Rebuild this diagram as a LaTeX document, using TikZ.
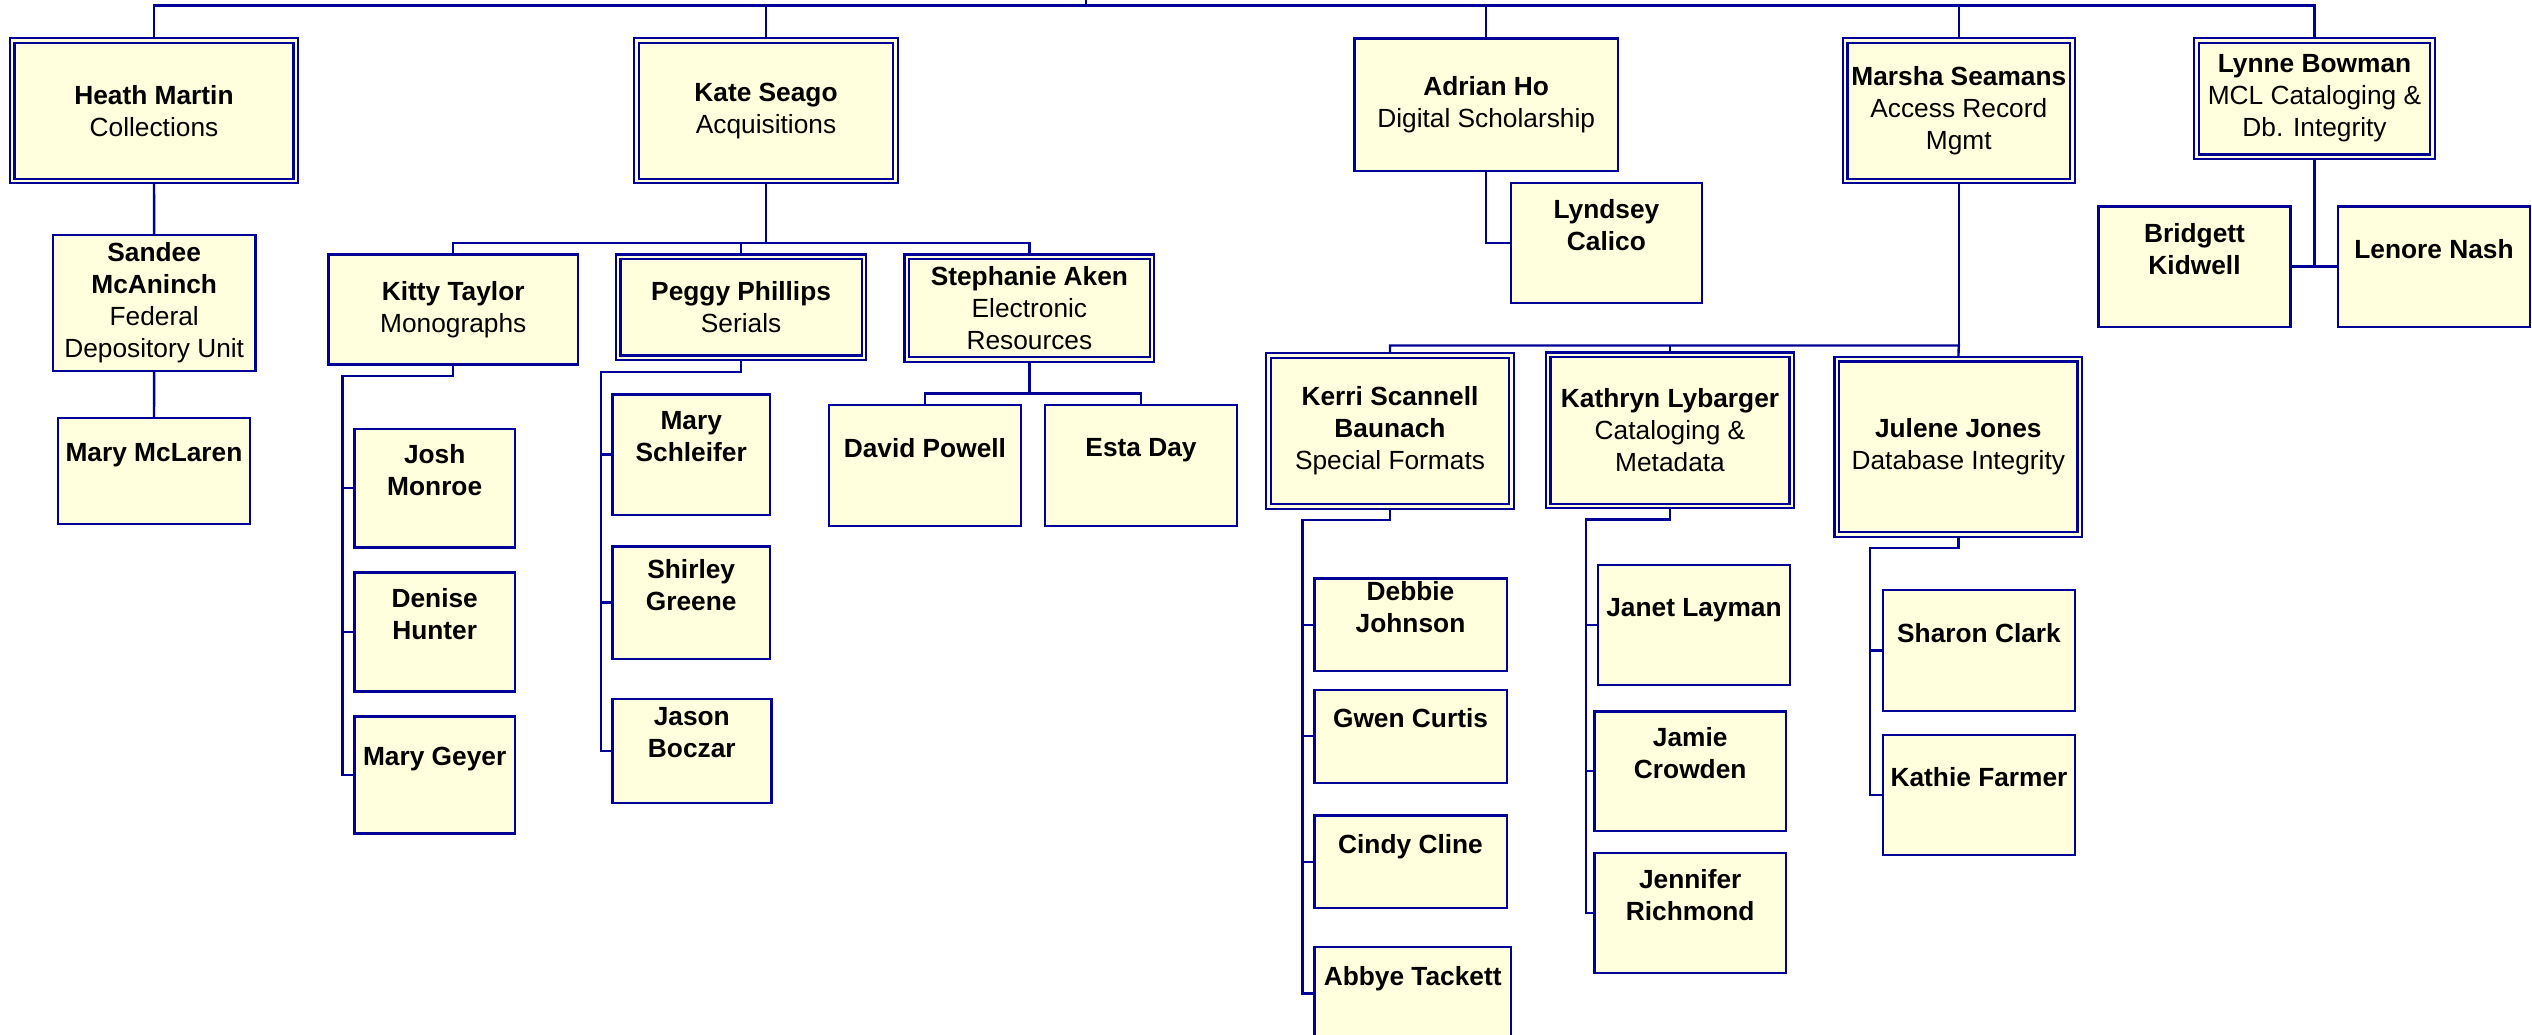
\documentclass[tikz,border=0pt]{standalone}
\usepackage{fontspec}
\setmainfont{Liberation Sans}
\usetikzlibrary{backgrounds}

\definecolor{orgblue}{RGB}{0,0,150}
\definecolor{orgfill}{RGB}{255,255,221}
\newcommand\orgfont{\fontsize{26.3}{32}\selectfont}
\newcommand\spare{\\\rule[-4pt]{0pt}{4pt}}

\tikzset{
	unit/.style={draw=orgblue, fill=orgfill, line width=2.4pt, inner sep=0pt, outer sep=0pt, align=center, font=\orgfont},
	head/.style={unit, line width=2.2pt, double=orgfill, double distance=2.4pt},
	staff/.style={unit, font=\orgfont\bfseries},
	wire/.style={draw=orgblue, line width=2.4pt},
}

\begin{document}
\begin{tikzpicture}[x=1pt, y=-1pt]
	\useasboundingbox (0,0) rectangle (2532,1034);
	\clip (0,0) rectangle (2532,1034);

	% managers
	\node[head, minimum width=283.5pt, minimum height=140.5pt] (heath) at (154,110.7) {\textbf{Heath Martin}\\Collections};
	\node[head, minimum width=258.8pt, minimum height=140.5pt] (kate) at (766,110.7) {\textbf{Kate Seago}\\Acquisitions};
	\node[unit, minimum width=263.5pt, minimum height=132.4pt] (adrian) at (1486.2,104.8) {\textbf{Adrian Ho}\\Digital Scholarship};
	\node[head, minimum width=227.1pt, minimum height=140.5pt] (marsha) at (1958.8,110.7) {\textbf{Marsha Seamans}\\Access Record\\Mgmt};
	\node[head, minimum width=235.7pt, minimum height=116.3pt] (lynne) at (2314.5,98.6) {\textbf{Lynne Bowman}\\MCL Cataloging \&\\Db. Integrity};

	% second level
	\node[unit, minimum width=202.7pt, minimum height=136pt] (sandee) at (154.2,303) {\textbf{Sandee}\\\textbf{McAninch}\\Federal\\Depository Unit};
	\node[unit, minimum width=249.6pt, minimum height=109.7pt] (kitty) at (453.2,309.5) {\textbf{Kitty Taylor}\\Monographs};
	\node[head, minimum width=245.7pt, minimum height=100.9pt] (peggy) at (741.1,307.3) {\textbf{Peggy Phillips}\\Serials};
	\node[head, minimum width=245.2pt, minimum height=102.7pt] (stephanie) at (1029.4,308.2) {\textbf{Stephanie Aken}\\Electronic\\Resources};
	\node[head, minimum width=243pt, minimum height=151pt] (kerri) at (1390,431) {\textbf{Kerri Scannell}\\\textbf{Baunach}\\Special Formats};
	\node[head, minimum width=243.5pt, minimum height=151.3pt] (kathryn) at (1670,430.4) {\textbf{Kathryn Lybarger}\\Cataloging \&\\Metadata};
	\node[head, minimum width=243pt, minimum height=175.1pt] (julene) at (1958.3,446.8) {\textbf{Julene Jones}\\Database Integrity};

	% staff
	\node[staff, minimum width=191.7pt, minimum height=105.7pt] (mclaren) at (154,470.9) {Mary McLaren\spare};
	\node[staff, minimum width=160.7pt, minimum height=118.6pt] (josh) at (434.7,488) {Josh\\Monroe\spare};
	\node[staff, minimum width=160.7pt, minimum height=119pt] (denise) at (434.7,631.8) {Denise\\Hunter\spare};
	\node[staff, minimum width=160.7pt, minimum height=117pt] (geyer) at (434.7,774.8) {Mary Geyer\spare};
	\node[staff, minimum width=157.7pt, minimum height=120.4pt] (schleifer) at (691.2,454.5) {Mary\\Schleifer\spare};
	\node[staff, minimum width=157.7pt, minimum height=112.4pt] (shirley) at (691.2,602.5) {Shirley\\Greene\spare};
	\node[staff, minimum width=159pt, minimum height=104pt] (jason) at (691.8,750.7) {Jason\\Boczar\spare};
	\node[staff, minimum width=192.3pt, minimum height=121pt] (david) at (924.9,465.5) {David Powell\spare};
	\node[staff, minimum width=192pt, minimum height=121pt] (esta) at (1141,465.5) {Esta Day\spare};
	\node[staff, minimum width=191.3pt, minimum height=120pt] (lyndsey) at (1606.4,243) {Lyndsey\\Calico\spare};
	\node[staff, minimum width=192.3pt, minimum height=120.4pt] (bridgett) at (2194.5,266.6) {Bridgett\\Kidwell\spare};
	\node[staff, minimum width=192.3pt, minimum height=120.4pt] (lenore) at (2434,266.6) {Lenore Nash\spare};
	\node[staff, minimum width=192.4pt, minimum height=92.7pt] (debbie) at (1410.5,624.7) {Debbie\\Johnson\spare};
	\node[staff, minimum width=192.4pt, minimum height=93pt] (gwen) at (1410.5,736.2) {Gwen Curtis\spare};
	\node[staff, minimum width=192.4pt, minimum height=92.7pt] (cindy) at (1410.5,861.7) {Cindy Cline\spare};
	\node[staff, minimum width=196.7pt, minimum height=93pt] (abbye) at (1412.7,993.5) {Abbye Tackett\spare};
	\node[staff, minimum width=192pt, minimum height=120pt] (janet) at (1694,625) {Janet Layman\spare};
	\node[staff, minimum width=191.7pt, minimum height=119.7pt] (jamie) at (1690.2,771.2) {Jamie\\Crowden\spare};
	\node[staff, minimum width=191.7pt, minimum height=120pt] (jennifer) at (1690.2,913) {Jennifer\\Richmond\spare};
	\node[staff, minimum width=192pt, minimum height=121pt] (sharon) at (1979,650.5) {Sharon Clark\spare};
	\node[staff, minimum width=192pt, minimum height=120pt] (kathie) at (1979,795) {Kathie Farmer\spare};

	% connectors
	\begin{scope}[on background layer]
		\coordinate (top) at (1086,0);
		\coordinate (topbus) at (1086,5.5);
		\coordinate (katebus) at (766,243);
		\coordinate (stephbus) at (1029.4,393.6);
		\coordinate (marshabus) at (1958.8,345.5);
		\coordinate (kittyspine) at (342.3,376);
		\coordinate (peggyspine) at (601,371.8);
		\coordinate (kerrispine) at (1302.3,520);
		\coordinate (kathrynspine) at (1586,519.3);
		\coordinate (julenespine) at (1870,548);

		\path[wire] (top) -- (topbus);
		\path[wire] (heath.north) |- (topbus) -| (lynne.north);
		\path[wire] (kate.north) -- (kate.north |- topbus);
		\path[wire] (adrian.north) -- (adrian.north |- topbus);
		\path[wire] (marsha.north) -- (marsha.north |- topbus);

		\path[wire] (heath.south) -- (sandee.north);
		\path[wire] (sandee.south) -- (mclaren.north);

		\path[wire] (kate.south) -- (katebus);
		\path[wire] (kitty.north) |- (katebus) -| (stephanie.north);
		\path[wire] (peggy.north) -- (peggy.north |- katebus);

		\path[wire] (kitty.south) |- (kittyspine) |- (geyer.west);
		\path[wire] (josh.west) -- (josh.west -| kittyspine);
		\path[wire] (denise.west) -- (denise.west -| kittyspine);

		\path[wire] (peggy.south) |- (peggyspine) |- (jason.west);
		\path[wire] (schleifer.west) -- (schleifer.west -| peggyspine);
		\path[wire] (shirley.west) -- (shirley.west -| peggyspine);

		\path[wire] (stephanie.south) -- (stephbus);
		\path[wire] (david.north) |- (stephbus) -| (esta.north);

		\path[wire] (adrian.south) |- (lyndsey.west);

		\path[wire] (marsha.south) -- (marshabus);
		\path[wire] (kerri.north) |- (marshabus) -- (julene.north);
		\path[wire] (kathryn.north) -- (kathryn.north |- marshabus);

		\path[wire] (kerri.south) |- (kerrispine) |- (abbye.west);
		\path[wire] (debbie.west) -- (debbie.west -| kerrispine);
		\path[wire] (gwen.west) -- (gwen.west -| kerrispine);
		\path[wire] (cindy.west) -- (cindy.west -| kerrispine);

		\path[wire] (kathryn.south) |- (kathrynspine) |- (jennifer.west);
		\path[wire] (janet.west) -- (janet.west -| kathrynspine);
		\path[wire] (jamie.west) -- (jamie.west -| kathrynspine);

		\path[wire] (julene.south) |- (julenespine) |- (kathie.west);
		\path[wire] (sharon.west) -- (sharon.west -| julenespine);

		\path[wire] (lynne.south) -- (lynne.south |- bridgett.east);
		\path[wire] (bridgett.east) -- (lenore.west);
	\end{scope}
\end{tikzpicture}
\end{document}
